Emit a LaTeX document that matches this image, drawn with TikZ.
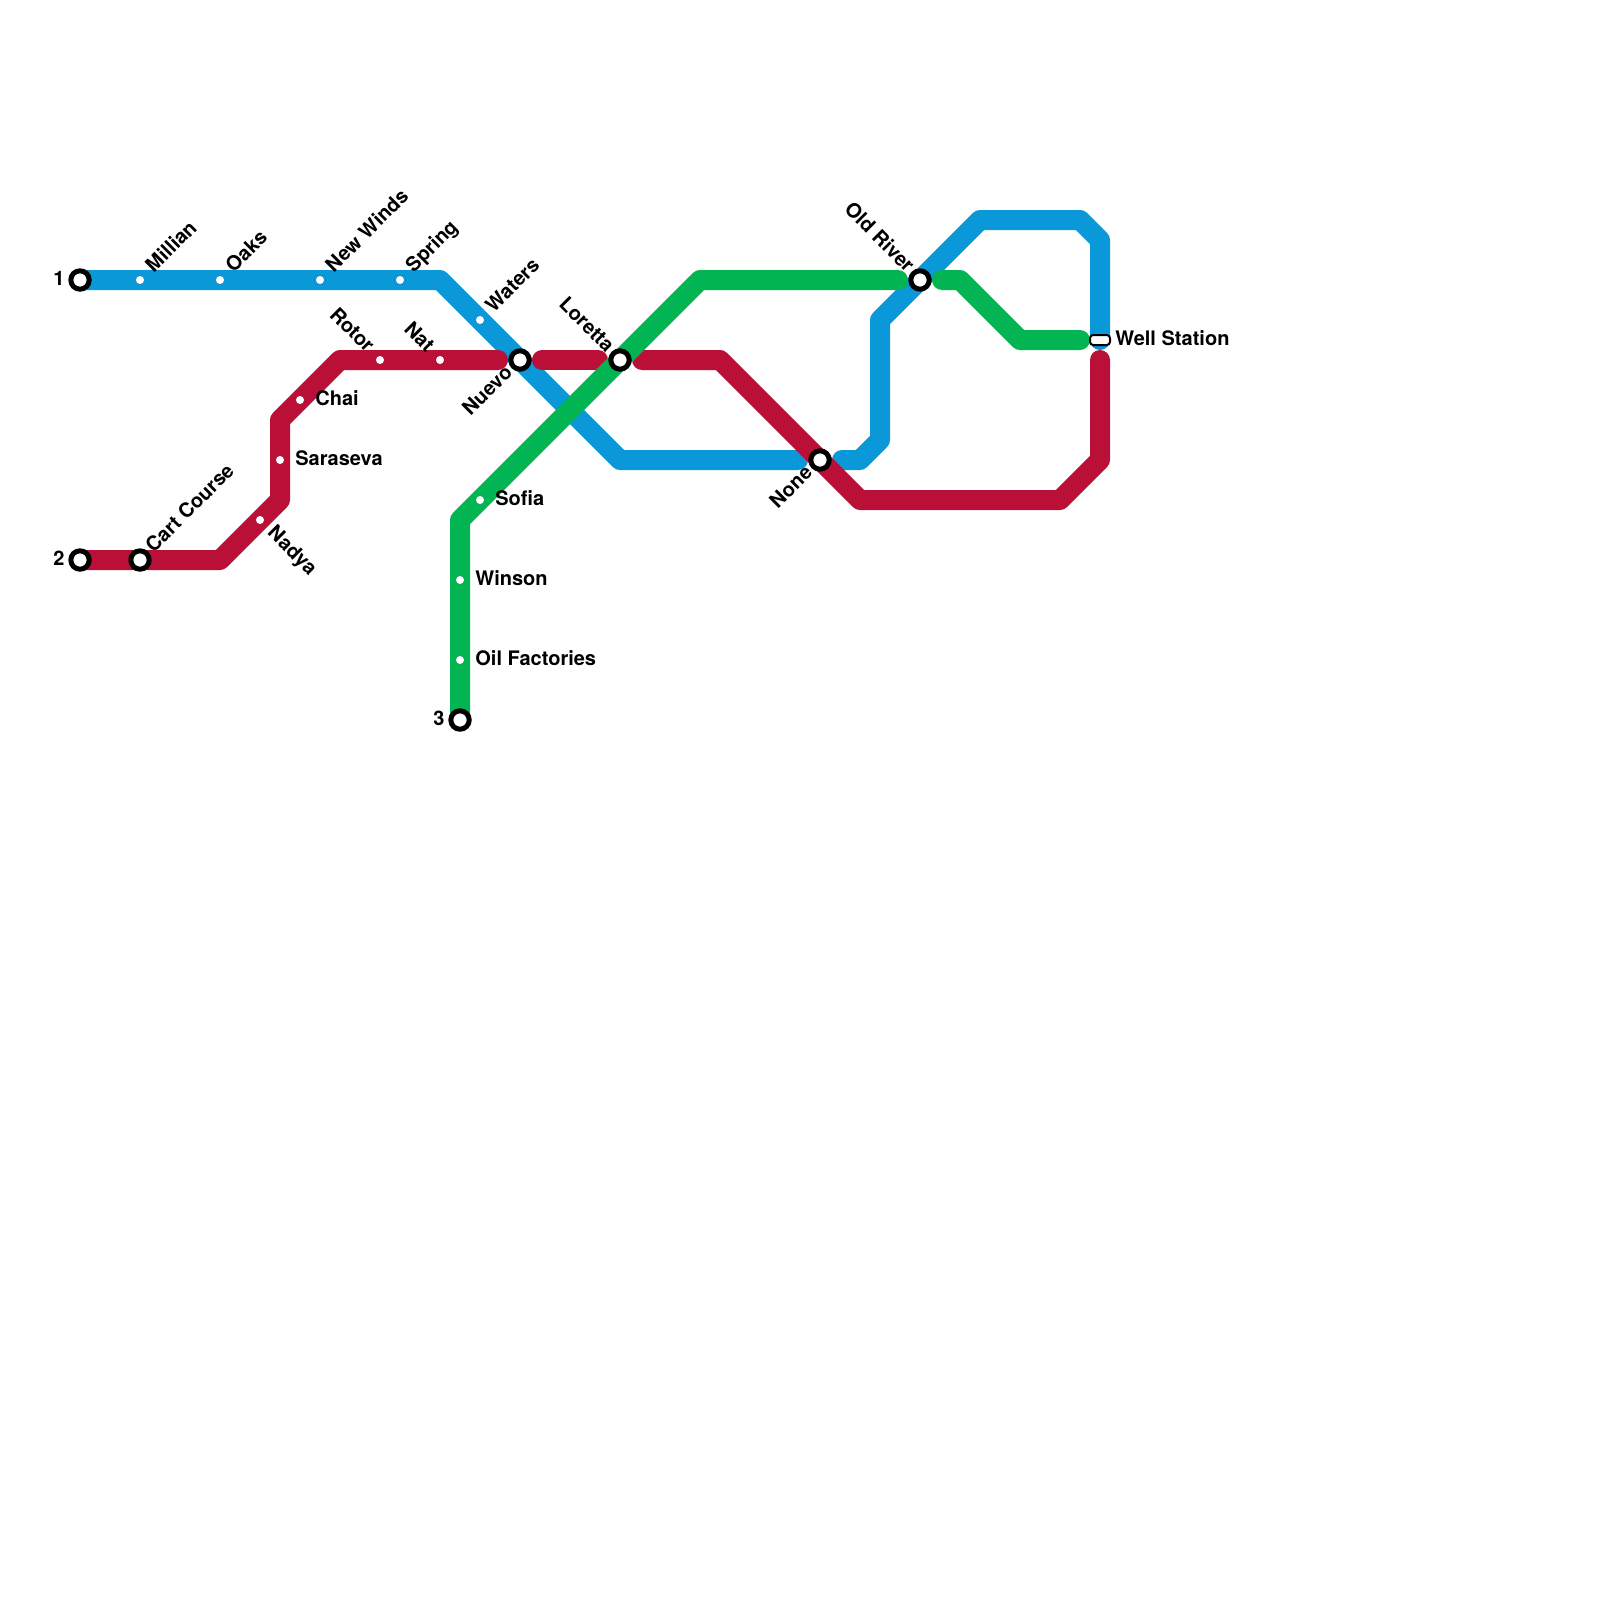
\documentclass[tikz,border=0pt]{standalone}
\usepackage{fontspec}
\setmainfont{TeX Gyre Heros}
\begin{document}
\begin{tikzpicture}[x=0.5pt,y=-0.5pt,
  metro/.style={line width=10pt,line cap=round,line join=round},
  blueline/.style={metro,draw=lineblue},
  redline/.style={metro,draw=linered},
  greenline/.style={metro,draw=linegreen},
  hub/.style={circle,draw=black,fill=white,line width=2.5pt,minimum size=9.2pt,inner sep=0pt,outer sep=0pt},
  halt/.style={circle,fill=white,minimum size=4pt,inner sep=0pt,outer sep=0pt},
  well/.style={rectangle,rounded corners=1.6pt,draw=black,fill=white,line width=1pt,minimum width=10pt,minimum height=5pt,inner sep=0pt,outer sep=0pt},
  lbl/.style={font=\bfseries\fontsize{10}{12}\selectfont,inner sep=0pt,text=black},
  ne/.style={lbl,rotate=45,anchor=mid west},
  sw/.style={lbl,rotate=45,anchor=mid east},
  nw/.style={lbl,rotate=-45,anchor=mid east},
  se/.style={lbl,rotate=-45,anchor=mid west},
  ea/.style={lbl,anchor=mid west},
  we/.style={lbl,anchor=mid east}]
\definecolor{lineblue}{HTML}{0A98D8}
\definecolor{linered}{HTML}{BA1038}
\definecolor{linegreen}{HTML}{03B452}
\useasboundingbox (0,0) rectangle (1600,1600);
\fill[white] (0,0) rectangle (1600,1600);
% waypoints
\foreach \n/\x/\y in {
 b1/440/280,b2/620/460,b3/798/460,b4/842/460,b5/860/460,b6/880/440,b7/880/320,b8/980/220,b9/1080/220,b10/1100/240,b11/1100/340,
 r1/220/560,r2/280/500,r3/280/420,r4/340/360,r5/498/360,r6/542/360,r7/598/360,r8/642/360,r9/720/360,r10/860/500,r11/1060/500,r12/1100/460,r13/1100/360,
 g1/460/520,g2/700/280,g3/898/280,g4/942/280,g5/960/280,g6/1020/340,g7/1080/340}
 {\coordinate (\n) at (\x,\y);}
% stations
\coordinate (sOne) at (80,280);
\coordinate (sTwo) at (80,560);
\coordinate (sThree) at (460,720);
% lines
\draw[blueline] (sOne) -- (b1) -- (b2) -- (b3);
\draw[blueline] (b4) -- (b5) -- (b6) -- (b7) -- (b8) -- (b9) -- (b10) -- (b11);
\draw[redline] (sTwo) -- (r1) -- (r2) -- (r3) -- (r4) -- (r5);
\draw[redline] (r6) -- (r7);
\draw[redline] (r8) -- (r9) -- (r10) -- (r11) -- (r12) -- (r13);
\draw[greenline] (sThree) -- (g1) -- (g2) -- (g3);
\draw[greenline] (g4) -- (g5) -- (g6) -- (g7);
% hubs
\node[hub] (n1) at (80,280) {};
\node[hub] (n2) at (80,560) {};
\node[hub] (n3) at (460,720) {};
\node[hub] (cart) at (140,560) {};
\node[hub] (nuevo) at (520,360) {};
\node[hub] (loretta) at (620,360) {};
\node[hub] (none) at (820,460) {};
\node[hub] (oldriver) at (920,280) {};
\node[well] (wellst) at (1100,340) {};
% halts
\node[halt] (millian) at (140,280) {};
\node[halt] (oaks) at (220,280) {};
\node[halt] (newwinds) at (320,280) {};
\node[halt] (spring) at (400,280) {};
\node[halt] (waters) at (480,320) {};
\node[halt] (rotor) at (380,360) {};
\node[halt] (nat) at (440,360) {};
\node[halt] (chai) at (300,400) {};
\node[halt] (saraseva) at (280,460) {};
\node[halt] (nadya) at (260,520) {};
\node[halt] (sofia) at (480,500) {};
\node[halt] (winson) at (460,580) {};
\node[halt] (oilf) at (460,660) {};
% labels
\node[we] (l1) at (65,280) {1};
\node[we] (l2) at (65,560) {2};
\node[we] (l3) at (445,720) {3};
\node[ne] (lmillian) at (150,270) {Millian};
\node[ne] (loaks) at (230,270) {Oaks};
\node[ne] (lnewwinds) at (330,270) {New Winds};
\node[ne] (lspring) at (410,270) {Spring};
\node[ne] (lwaters) at (490,310) {Waters};
\node[ne] (lcart) at (150,550) {Cart Course};
\node[nw] (lrotor) at (370,350) {Rotor};
\node[nw] (lnat) at (430,350) {Nat};
\node[nw] (lloretta) at (610,350) {Loretta};
\node[nw] (loldriver) at (910,270) {Old River};
\node[sw] (lnuevo) at (510,370) {Nuevo};
\node[sw] (lnone) at (810,470) {None};
\node[se] (lnadya) at (270,530) {Nadya};
\node[ea] (lchai) at (315,400) {Chai};
\node[ea] (lsaraseva) at (295,460) {Saraseva};
\node[ea] (lsofia) at (495,500) {Sofia};
\node[ea] (lwinson) at (475,580) {Winson};
\node[ea] (loilf) at (475,660) {Oil Factories};
\node[ea] (lwell) at (1115,340) {Well Station};
\end{tikzpicture}
\end{document}
